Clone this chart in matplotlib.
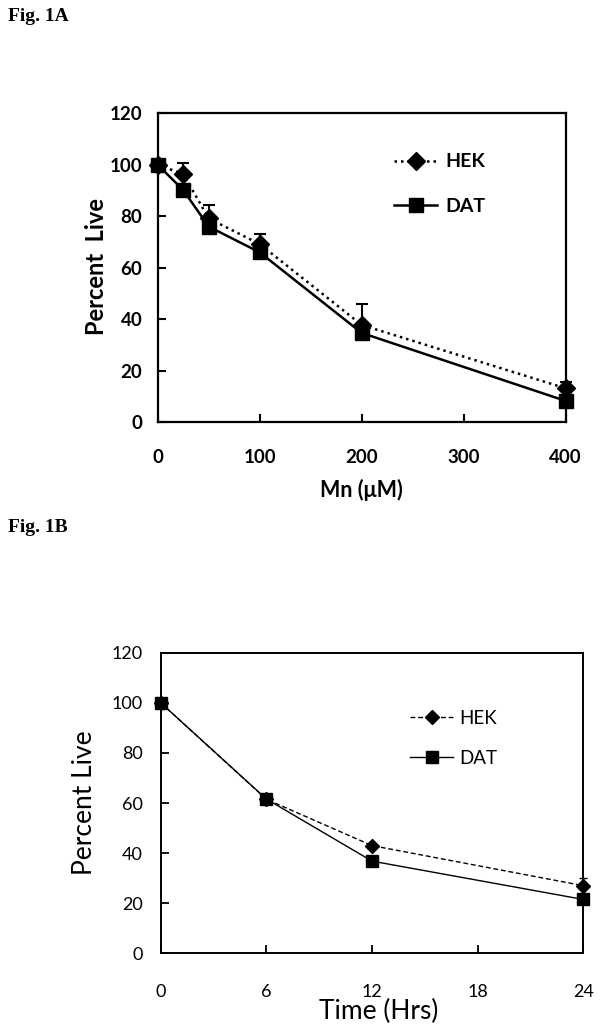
import matplotlib
matplotlib.use("Agg")
import matplotlib.pyplot as plt

# ---------------- data ----------------
mn_conc = [0, 25, 50, 100, 200, 400]
hek_mn = [100, 96.4, 79.2, 69.2, 37.8, 13.2]
hek_mn_err = [0, 4.3, 5.0, 4.0, 8.0, 2.5]
dat_mn = [100, 90.2, 76.0, 66.0, 34.7, 8.3]
mn_xticks = [0, 100, 200, 300, 400]

time_hrs = [0, 6, 12, 24]
hek_time = [100, 61.5, 43.0, 27.0]
hek_time_err = [0, 0, 0, 3.2]
dat_time = [100, 61.6, 36.8, 21.5]
time_xticks = [0, 6, 12, 18, 24]

yticks = [0, 20, 40, 60, 80, 100, 120]

SANS = ["Lato", "DejaVu Sans"]
SERIF = ["Liberation Serif", "DejaVu Serif"]

W, H = 602, 1034
fig = plt.figure(figsize=(W / 100, H / 100), dpi=100)


def px_axes(l, t, r, b):
    return fig.add_axes([l / W, 1 - b / H, (r - l) / W, (b - t) / H])


# ---------------- Panel A ----------------
axA = px_axes(157.7, 113.3, 565.7, 422.3)
axA.plot(mn_conc, hek_mn, color="black", lw=1.8, ls=(0, (1, 1.6)),
         marker="D", ms=9, label="HEK", zorder=3, clip_on=False)
axA.errorbar(mn_conc, hek_mn, yerr=[[0] * len(hek_mn_err), hek_mn_err],
             fmt="none", ecolor="black", elinewidth=1.5, capsize=4, capthick=1.5,
             zorder=2, clip_on=False)
axA.plot(mn_conc, dat_mn, color="black", lw=1.8, ls="-",
         marker="s", ms=10, label="DAT", zorder=4, clip_on=False)
axA.set_xlim(0, 400)
axA.set_ylim(0, 120)
axA.set_xticks(mn_xticks)
axA.set_yticks(yticks)
axA.tick_params(direction="in", length=6, width=1.5, top=False, right=False,
                labelsize=13.5)
axA.tick_params(axis="x", pad=19)
axA.tick_params(axis="y", pad=11)
for lab in axA.get_xticklabels() + axA.get_yticklabels():
    lab.set_fontfamily(SANS)
    lab.set_fontweight("bold")
for sp in axA.spines.values():
    sp.set_linewidth(1.6)
axA.text(-0.15, 0.503, "Percent  Live", transform=axA.transAxes, rotation=90,
         ha="center", va="center", fontsize=17, fontweight="bold", family=SANS)
axA.text(0.5, -0.219, "Mn (μM)", transform=axA.transAxes,
         ha="center", va="center", fontsize=15.5, fontweight="bold", family=SANS)
legA = axA.legend(loc="upper left", bbox_to_anchor=(0.58, 0.87), frameon=False,
                  borderpad=0, borderaxespad=0, handlelength=2.2, handletextpad=0.4,
                  labelspacing=1.4, prop={"family": SANS, "size": 14, "weight": "bold"})

# ---------------- Panel B ----------------
axB = px_axes(160.7, 652.7, 583.3, 953.3)
axB.plot(time_hrs, hek_time, color="black", lw=1.0, ls=(0, (3.5, 2)),
         marker="D", ms=7.5, label="HEK", zorder=3, clip_on=False)
axB.errorbar(time_hrs, hek_time, yerr=[[0] * len(hek_time_err), hek_time_err],
             fmt="none", ecolor="black", elinewidth=1.0, capsize=3, capthick=1.0,
             zorder=2, clip_on=False)
axB.plot(time_hrs, dat_time, color="black", lw=1.0, ls="-",
         marker="s", ms=9, label="DAT", zorder=4, clip_on=False)
axB.set_xlim(0, 24)
axB.set_ylim(0, 120)
axB.set_xticks(time_xticks)
axB.set_yticks(yticks)
axB.tick_params(direction="in", length=6, width=1.3, top=False, right=False,
                labelsize=13)
axB.tick_params(axis="x", pad=22)
axB.tick_params(axis="y", pad=13)
for lab in axB.get_xticklabels() + axB.get_yticklabels():
    lab.set_fontfamily(SANS)
for sp in axB.spines.values():
    sp.set_linewidth(1.4)
axB.text(-0.18, 0.5, "Percent Live", transform=axB.transAxes, rotation=90,
         ha="center", va="center", fontsize=19, family=SANS)
axB.text(0.516, -0.195, "Time (Hrs)", transform=axB.transAxes,
         ha="center", va="center", fontsize=19, family=SANS)
legB = axB.legend(loc="upper left", bbox_to_anchor=(0.59, 0.81), frameon=False,
                  borderpad=0, borderaxespad=0, handlelength=2.3, handletextpad=0.3,
                  labelspacing=1.22, prop={"family": SANS, "size": 13.5})

# ---------------- Figure labels ----------------
fig.text(8 / W, 1 - 21 / H, "Fig. 1A", ha="left", va="baseline",
         fontsize=14, fontweight="bold", family=SERIF)
fig.text(8 / W, 1 - 532 / H, "Fig. 1B", ha="left", va="baseline",
         fontsize=14, fontweight="bold", family=SERIF)

fig.savefig("out.png", dpi=100)
